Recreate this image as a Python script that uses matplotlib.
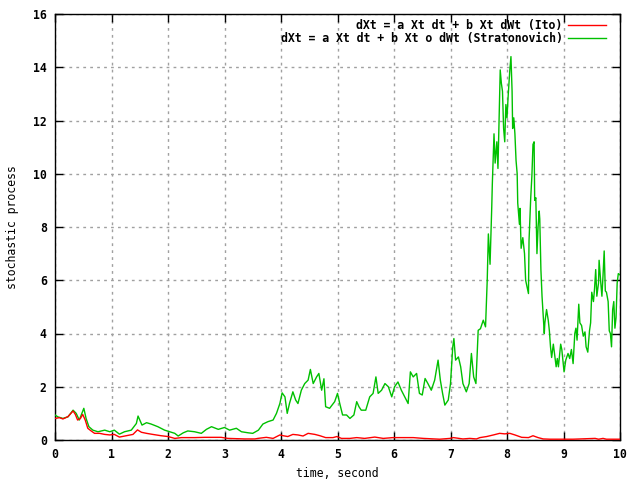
import matplotlib
matplotlib.use("Agg")
import matplotlib.pyplot as plt

ito_t = [0.00, 0.08, 0.14, 0.23, 0.32, 0.36, 0.40, 0.45, 0.49, 0.535, 0.58, 0.64, 0.70, 0.79, 0.88, 0.97,
         1.05, 1.14, 1.26, 1.38, 1.46, 1.53, 1.62, 1.73, 1.88, 2.00, 2.12, 2.24, 2.47, 2.65, 2.94, 3.06,
         3.36, 3.54, 3.59, 3.74, 3.86, 3.98, 4.04, 4.12, 4.21, 4.30, 4.39, 4.48, 4.60, 4.69, 4.79, 4.92,
         4.99, 5.07, 5.22, 5.34, 5.48, 5.66, 5.81, 5.98, 6.16, 6.34, 6.52, 6.81, 6.99, 7.05, 7.22, 7.34,
         7.46, 7.52, 7.64, 7.76, 7.87, 7.96, 8.05, 8.14, 8.26, 8.38, 8.46, 8.55, 8.64, 8.76, 9.17, 9.56,
         9.62, 9.70, 9.76, 10.0]
ito_v = [0.81, 0.84, 0.79, 0.88, 1.09, 0.96, 0.75, 0.81, 0.96, 0.75, 0.44, 0.34, 0.25, 0.25, 0.21, 0.19,
         0.21, 0.11, 0.16, 0.21, 0.38, 0.29, 0.25, 0.21, 0.16, 0.13, 0.06, 0.09, 0.09, 0.10, 0.10, 0.06,
         0.04, 0.04, 0.06, 0.10, 0.06, 0.19, 0.16, 0.13, 0.21, 0.19, 0.15, 0.25, 0.21, 0.16, 0.09, 0.09,
         0.13, 0.06, 0.06, 0.09, 0.06, 0.11, 0.06, 0.09, 0.09, 0.09, 0.06, 0.03, 0.06, 0.09, 0.04, 0.06,
         0.04, 0.09, 0.13, 0.19, 0.25, 0.23, 0.25, 0.19, 0.10, 0.09, 0.16, 0.09, 0.04, 0.03, 0.03, 0.06,
         0.03, 0.06, 0.03, 0.03]

strat_t = [0.00, 0.05, 0.14, 0.23, 0.32, 0.375, 0.43, 0.51, 0.55, 0.60, 0.67, 0.76, 0.88, 0.97, 1.05, 1.14,
           1.23, 1.35, 1.44, 1.47, 1.54, 1.62, 1.70, 1.82, 1.94, 2.03, 2.12, 2.18, 2.27, 2.35, 2.47, 2.59,
           2.68, 2.77, 2.89, 3.00, 3.09, 3.21, 3.30, 3.42, 3.50, 3.60, 3.68, 3.77, 3.86, 3.92, 3.98, 4.02,
           4.07, 4.11, 4.15, 4.21, 4.26, 4.30, 4.36, 4.42, 4.48, 4.52, 4.57, 4.63, 4.67, 4.72, 4.76, 4.79,
           4.86, 4.95, 5.00, 5.04, 5.09, 5.16, 5.22, 5.29, 5.34, 5.38, 5.42, 5.50, 5.57, 5.63, 5.68, 5.72,
           5.78, 5.84, 5.90, 5.96, 6.01, 6.07, 6.13, 6.19, 6.25, 6.29, 6.34, 6.40, 6.45, 6.50, 6.55, 6.60,
           6.66, 6.72, 6.78, 6.82, 6.86, 6.90, 6.96, 7.00, 7.04, 7.06, 7.09, 7.14, 7.18, 7.22, 7.28, 7.33,
           7.37, 7.41, 7.45, 7.49, 7.53, 7.58, 7.62, 7.65, 7.67, 7.70, 7.73, 7.74, 7.77, 7.79, 7.82, 7.84,
           7.86, 7.88, 7.90, 7.92, 7.94, 7.96, 7.98, 8.00, 8.02, 8.05, 8.07, 8.09, 8.10, 8.12, 8.14, 8.16,
           8.18, 8.19, 8.22, 8.23, 8.25, 8.28, 8.31, 8.33, 8.36, 8.38, 8.39, 8.42, 8.44, 8.46, 8.48, 8.49,
           8.51, 8.53, 8.55, 8.57, 8.58, 8.60, 8.62, 8.64, 8.66, 8.67, 8.70, 8.73, 8.75, 8.77, 8.79, 8.82,
           8.85, 8.87, 8.89, 8.91, 8.95, 8.97, 9.00, 9.01, 9.04, 9.08, 9.11, 9.14, 9.17, 9.20, 9.22, 9.24,
           9.27, 9.29, 9.32, 9.35, 9.38, 9.40, 9.43, 9.46, 9.48, 9.50, 9.53, 9.55, 9.57, 9.59, 9.62, 9.63,
           9.66, 9.68, 9.70, 9.72, 9.74, 9.76, 9.79, 9.81, 9.83, 9.85, 9.87, 9.89, 9.91, 9.93, 9.95, 9.97,
           10.0]
strat_v = [0.94, 0.87, 0.81, 0.87, 1.12, 1.00, 0.75, 1.19, 0.81, 0.50, 0.37, 0.31, 0.37, 0.31, 0.37, 0.22,
           0.31, 0.37, 0.62, 0.90, 0.56, 0.65, 0.60, 0.50, 0.37, 0.31, 0.25, 0.15, 0.27, 0.34, 0.31, 0.25,
           0.40, 0.50, 0.40, 0.47, 0.37, 0.44, 0.31, 0.27, 0.25, 0.37, 0.60, 0.69, 0.75, 1.00, 1.37, 1.77,
           1.62, 1.00, 1.37, 1.81, 1.50, 1.37, 1.87, 2.12, 2.25, 2.65, 2.12, 2.37, 2.50, 1.87, 2.30, 1.25,
           1.19, 1.44, 1.75, 1.37, 0.94, 0.94, 0.81, 0.94, 1.44, 1.25, 1.12, 1.12, 1.62, 1.75, 2.37, 1.75,
           1.87, 2.12, 2.00, 1.62, 2.00, 2.18, 1.87, 1.62, 1.37, 2.56, 2.37, 2.50, 1.75, 1.69, 2.31, 2.12,
           1.87, 2.25, 3.00, 2.25, 1.75, 1.31, 1.50, 2.12, 3.50, 3.81, 3.00, 3.12, 2.75, 2.12, 1.81, 2.12,
           3.25, 2.37, 2.12, 4.12, 4.18, 4.50, 4.25, 6.00, 7.74, 6.60, 8.74, 9.60, 11.5, 10.4, 11.2, 10.2,
           12.1, 13.9, 13.4, 13.1, 11.7, 11.2, 12.6, 12.1, 12.9, 13.9, 14.4, 13.1, 11.7, 12.1, 11.5, 10.5,
           10.0, 8.9, 8.1, 8.7, 7.2, 7.6, 7.0, 6.0, 5.7, 5.5, 7.5, 9.1, 9.9, 11.1, 11.2, 9.0,
           9.1, 7.0, 8.0, 8.6, 8.3, 6.4, 5.4, 4.7, 4.0, 4.4, 4.9, 4.5, 4.1, 3.5, 3.1, 3.6,
           3.1, 2.75, 3.06, 2.75, 3.6, 3.4, 2.75, 2.56, 3.0, 3.25, 3.06, 3.4, 2.87, 4.0, 4.2, 3.75,
           5.1, 4.4, 4.3, 3.9, 4.06, 3.5, 3.3, 4.1, 4.4, 5.55, 5.2, 5.7, 6.4, 5.4, 5.9, 6.75,
           5.9, 5.4, 6.2, 7.1, 5.6, 5.55, 5.2, 4.1, 4.0, 3.5, 4.9, 5.2, 4.2, 4.6, 5.9, 6.25,
           6.2]

labels = ["dXt = a Xt dt + b Xt dWt (Ito)", "dXt = a Xt dt + b Xt o dWt (Stratonovich)"]
xticks = list(range(0, 11))
yticks = list(range(0, 17, 2))

plt.rcParams['font.family'] = ['DejaVu Sans Mono']
plt.rcParams['font.weight'] = 'bold'
plt.rcParams['font.size'] = 8.3

fig = plt.figure(figsize=(6.4, 4.8), dpi=100)
ax = fig.add_axes([55 / 640, 40 / 480, 565 / 640, 426 / 480])

ax.plot(strat_t, strat_v, color='#00c000', linewidth=1.0, label=labels[1], zorder=3)
ax.plot(ito_t, ito_v, color='#ff0000', linewidth=1.0, label=labels[0], zorder=4)

ax.set_xlim(0, 10)
ax.set_ylim(0, 16)
ax.set_xticks(xticks)
ax.set_yticks(yticks)
ax.grid(True, color='#a0a0a0', linestyle=(0, (2, 3)), linewidth=1.0)
ax.set_axisbelow(True)
ax.tick_params(direction='in', length=6, width=1, top=True, right=True, pad=6)
for s in ax.spines.values():
    s.set_linewidth(1.0)

ax.set_xlabel("time, second", labelpad=4)
ax.set_ylabel("stochastic process", labelpad=10)

handles, labs = ax.get_legend_handles_labels()
ax.legend([handles[1], handles[0]], [labs[1], labs[0]], loc='upper right', frameon=False,
          markerfirst=False, handlelength=3.3, handletextpad=0.45, labelspacing=0.05,
          borderaxespad=0.0, bbox_to_anchor=(0.983, 1.0))

fig.savefig("out.png", dpi=100)
